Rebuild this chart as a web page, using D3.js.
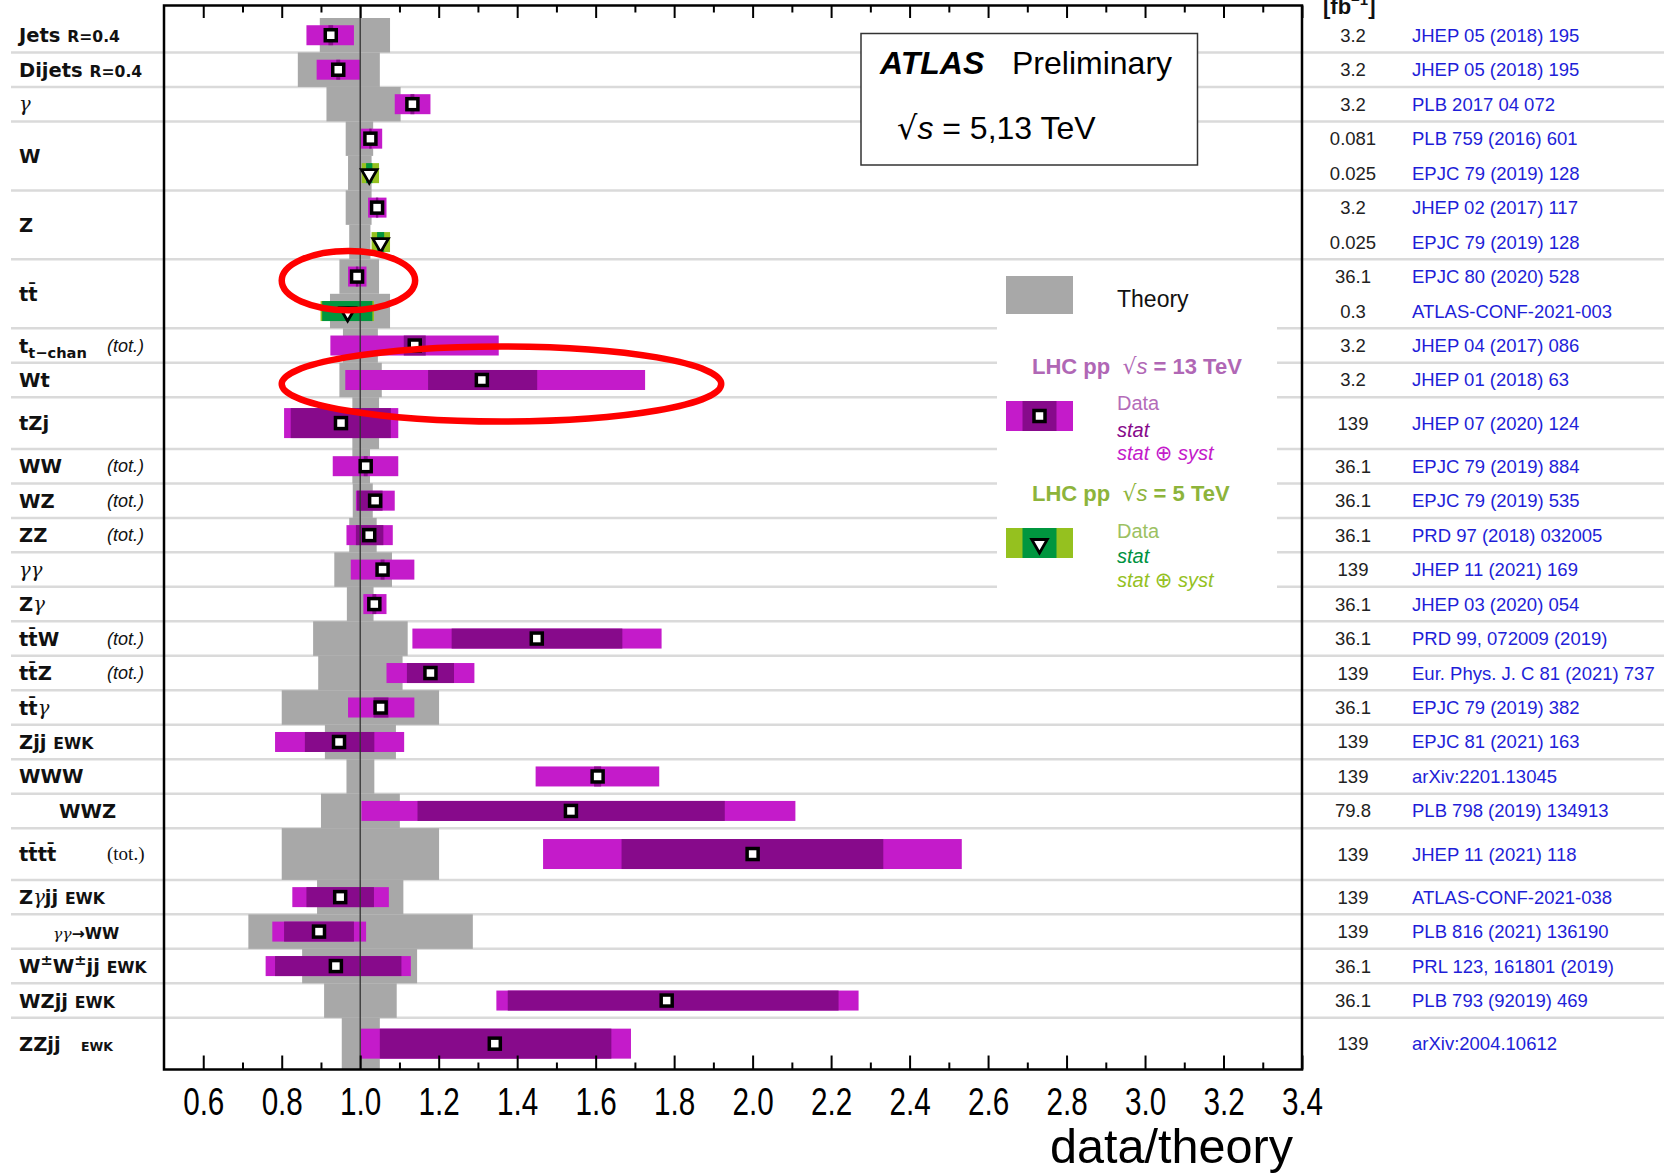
<!DOCTYPE html>
<html lang="en">
<head>
<meta charset="UTF-8">
<title>ATLAS Preliminary - data/theory summary</title>
<script src="https://d3js.org/d3.v7.min.js"></script>
<style>
  body { margin: 0; background: #fff; }
  svg text { white-space: pre; }
</style>
</head>
<body>
<script>
// row labels: {..} smaller, _{..} subscript, ^{..} superscript, $..$ italic greek
const rowLabels = [
  "Jets {R=0.4}", "Dijets {R=0.4}", "$γ$", "W", "Z", "tt\u0304",
  "t_{t−chan}", "Wt", "tZj", "WW", "WZ", "ZZ", "$γγ$", "Z$γ$",
  "tt\u0304W", "tt\u0304Z", "tt\u0304$γ$", "Zjj {EWK}", "WWW", "WWZ",
  "tt\u0304tt\u0304", "Z$γ$jj {EWK}", "{$γγ$→WW}", "W^{±}W^{±}jj {EWK}",
  "WZjj {EWK}", "ZZjj   {{EWK}}"
];
const rowUnits = [1, 1, 1, 2, 2, 2, 1, 1, 1.5, 1, 1, 1, 1, 1, 1, 1, 1, 1, 1, 1, 1.5, 1, 1, 1, 1, 1.5];
const totRows = [6, 9, 10, 11, 14, 15, 20];

// measurements (one per entry)
const entryRow  = [0, 1, 2, 3, 3, 4, 4, 5, 5, 6, 7, 8, 9, 10, 11, 12, 13, 14, 15, 16, 17, 18, 19, 20, 21, 22, 23, 24, 25];
const entrySlot = [0, 0, 0, 0, 1, 0, 1, 0, 1, 0, 0, 0, 0, 0, 0, 0, 0, 0, 0, 0, 0, 0, 0, 0, 0, 0, 0, 0, 0];
const entrySqrtS = ["13", "13", "13", "13", "5", "13", "5", "13", "5", "13", "13", "13", "13", "13", "13",
  "13", "13", "13", "13", "13", "13", "13", "13", "13", "13", "13", "13", "13", "13"];
const central = [0.925, 0.944, 1.133, 1.026, 1.023, 1.043, 1.052, 0.992, 0.968, 1.139, 1.310, 0.951, 1.014,
  1.038, 1.023, 1.057, 1.036, 1.450, 1.179, 1.052, 0.946, 1.605, 1.537, 2.000, 0.949, 0.895, 0.938, 1.781, 1.343];
const statLo = [0.919, 0.939, 1.128, 1.023, 1.015, 1.040, 1.043, 0.989, 0.903, 1.111, 1.173, 0.823, 1.009,
  0.992, 0.989, 1.052, 1.031, 1.233, 1.119, 1.034, 0.859, 1.596, 1.146, 1.666, 0.863, 0.806, 0.783, 1.376, 1.050];
const statHi = [0.931, 0.949, 1.138, 1.029, 1.031, 1.046, 1.061, 0.995, 1.031, 1.167, 1.451, 1.078, 1.019,
  1.057, 1.059, 1.062, 1.041, 1.668, 1.239, 1.072, 1.036, 1.614, 1.929, 2.333, 1.035, 0.984, 1.105, 2.219, 1.640];
const totLo = [0.863, 0.889, 1.088, 1.002, 1.004, 1.020, 1.029, 0.969, 0.899, 0.924, 0.962, 0.806, 0.930,
  0.989, 0.965, 0.976, 1.008, 1.133, 1.067, 0.969, 0.783, 1.447, 1.003, 1.466, 0.827, 0.776, 0.759, 1.347, 1.002];
const totHi = [0.984, 0.999, 1.179, 1.056, 1.048, 1.067, 1.076, 1.016, 1.035, 1.353, 1.726, 1.097, 1.097,
  1.088, 1.083, 1.138, 1.067, 1.768, 1.291, 1.138, 1.112, 1.762, 2.109, 2.533, 1.073, 1.015, 1.129, 2.270, 1.690];
const theoryLo = [0.897, 0.841, 0.914, 0.963, 0.969, 0.963, 0.972, 0.947, 0.923, 0.956, 0.947, 0.980, 0.980,
  0.981, 0.972, 0.934, 0.966, 0.880, 0.893, 0.800, 0.910, 0.965, 0.900, 0.800, 0.890, 0.715, 0.852, 0.908, 0.953];
const theoryHi = [1.076, 1.050, 1.103, 1.033, 1.029, 1.029, 1.026, 1.048, 1.076, 1.045, 1.055, 1.048, 1.025,
  1.032, 1.042, 1.081, 1.034, 1.121, 1.108, 1.201, 1.091, 1.036, 1.101, 1.201, 1.110, 1.287, 1.145, 1.093, 1.050];
const lumi = ["3.2", "3.2", "3.2", "0.081", "0.025", "3.2", "0.025", "36.1", "0.3", "3.2", "3.2", "139", "36.1",
  "36.1", "36.1", "139", "36.1", "36.1", "139", "36.1", "139", "139", "79.8", "139", "139", "139", "36.1", "36.1", "139"];
const refs = [
  "JHEP 05 (2018) 195", "JHEP 05 (2018) 195", "PLB 2017 04 072", "PLB 759 (2016) 601",
  "EPJC 79 (2019) 128", "JHEP 02 (2017) 117", "EPJC 79 (2019) 128", "EPJC 80 (2020) 528",
  "ATLAS-CONF-2021-003", "JHEP 04 (2017) 086", "JHEP 01 (2018) 63", "JHEP 07 (2020) 124",
  "EPJC 79 (2019) 884", "EPJC 79 (2019) 535", "PRD 97 (2018) 032005", "JHEP 11 (2021) 169",
  "JHEP 03 (2020) 054", "PRD 99, 072009 (2019)", "Eur. Phys. J. C 81 (2021) 737", "EPJC 79 (2019) 382",
  "EPJC 81 (2021) 163", "arXiv:2201.13045", "PLB 798 (2019) 134913", "JHEP 11 (2021) 118",
  "ATLAS-CONF-2021-038", "PLB 816 (2021) 136190", "PRL 123, 161801 (2019)", "PLB 793 (92019) 469",
  "arXiv:2004.10612"
];
const majorTicks = d3.range(3, 18).map(i => i / 5);
const minorTicks = d3.range(7, 34, 2).map(i => i / 10);

// red highlight rings drawn on top (entry index, data/theory span, half height in row units)
const highlightEntry = [7, 10];
const highlightSpan = [[0.80, 1.14], [0.80, 1.92]];
const highlightHalf = [0.86, 1.09];

const W = 1664, H = 1173;
const frame = {left: 164, right: 1302, top: 5.5, bottom: 1069.5};
const totalUnits = d3.sum(rowUnits);

const x = d3.scaleLinear().domain([0.5, 3.4]).range([frame.left, frame.right]);
const y = d3.scaleLinear().domain([0, totalUnits]).range([18, frame.bottom]);

const rowStart = [];
rowUnits.reduce((acc, u, i) => { rowStart[i] = acc; return acc + u; }, 0);
const slotsInRow = rowUnits.map((u, i) => entryRow.filter(r => r === i).length || 1);

const colors = {
  theory: "#a8a8a8",
  "13": {tot: "#c41bca", stat: "#870a8b"},
  "5": {tot: "#95c11f", stat: "#00963f"}
};

const svg = d3.select("body").append("svg").attr("width", W).attr("height", H)
  .style("font-family", "'Liberation Sans', Arial, sans-serif");
svg.append("rect").attr("width", W).attr("height", H).attr("fill", "#fff");

// entry geometry
const entries = central.map((c, i) => {
  const r = entryRow[i];
  const slotU = rowUnits[r] / slotsInRow[r];
  const u0 = rowStart[r] + entrySlot[i] * slotU;
  const top = y(u0), bot = y(u0 + slotU);
  return {i, r, c, top, bot, mid: (top + bot) / 2, h: bot - top, e: entrySqrtS[i]};
});

// row separators
const sepG = svg.append("g");
rowStart.slice(1).forEach(u => {
  sepG.append("line").attr("x1", 11).attr("x2", W).attr("y1", y(u)).attr("y2", y(u))
    .attr("stroke", "#dadada").attr("stroke-width", 2.5);
});

// white backgrounds of ATLAS box and legend
svg.append("rect").attr("x", 997).attr("y", 264).attr("width", 280).attr("height", 334).attr("fill", "#fff");
svg.append("rect").attr("x", 861).attr("y", 33.5).attr("width", 336.5).attr("height", 131.5)
  .attr("fill", "#fff").attr("stroke", "#333").attr("stroke-width", 1.5);

svg.append("clipPath").attr("id", "plotclip").append("rect")
  .attr("x", frame.left).attr("y", frame.top).attr("width", frame.right - frame.left).attr("height", frame.bottom - frame.top);
const plot = svg.append("g").attr("clip-path", "url(#plotclip)");

// theory bands
plot.selectAll(".theory").data(entries).join("rect")
  .attr("x", d => x(theoryLo[d.i])).attr("width", d => x(theoryHi[d.i]) - x(theoryLo[d.i]))
  .attr("y", d => d.top).attr("height", d => d.h).attr("fill", colors.theory);

// stat+syst and stat bars
const barH = d => d.h * 0.58;
plot.selectAll(".tot").data(entries).join("rect")
  .attr("x", d => x(totLo[d.i])).attr("width", d => x(totHi[d.i]) - x(totLo[d.i]))
  .attr("y", d => d.mid - barH(d) / 2).attr("height", barH).attr("fill", d => colors[d.e].tot);
plot.selectAll(".stat").data(entries).join("rect")
  .attr("x", d => x(statLo[d.i])).attr("width", d => x(statHi[d.i]) - x(statLo[d.i]))
  .attr("y", d => d.mid - barH(d) / 2).attr("height", barH).attr("fill", d => colors[d.e].stat);

// unity line
plot.append("line").attr("x1", x(1)).attr("x2", x(1)).attr("y1", frame.top).attr("y2", frame.bottom)
  .attr("stroke", "#333").attr("stroke-width", 1.3);

// markers
const tri = d3.symbol(d3.symbolTriangle, 105);
function drawMarker(g, cx, cy, e) {
  if (e === "13") {
    g.append("rect").attr("x", cx - 5.5).attr("y", cy - 5.5).attr("width", 11).attr("height", 11)
      .attr("fill", "#fff").attr("stroke", "#000").attr("stroke-width", 3.5);
  } else {
    g.append("path").attr("d", tri()).attr("transform", `translate(${cx},${cy + 1}) rotate(180)`)
      .attr("fill", "#fff").attr("stroke", "#000").attr("stroke-width", 2.8);
  }
}
entries.forEach(d => drawMarker(plot, x(d.c), d.mid, d.e));

// frame and axes
svg.append("rect").attr("x", frame.left).attr("y", frame.top)
  .attr("width", frame.right - frame.left).attr("height", frame.bottom - frame.top)
  .attr("fill", "none").attr("stroke", "#000").attr("stroke-width", 2.5);

const axB = svg.append("g").attr("transform", `translate(0,${frame.bottom})`)
  .call(d3.axisBottom(x).tickValues(majorTicks).tickSize(-14).tickPadding(18.5).tickFormat(d3.format(".1f")));
svg.append("g").attr("transform", `translate(0,${frame.bottom})`)
  .call(d3.axisBottom(x).tickValues(minorTicks).tickSize(-7).tickFormat(""));
svg.append("g").attr("transform", `translate(0,${frame.top})`)
  .call(d3.axisTop(x).tickValues(majorTicks).tickSize(-12.5).tickFormat(""));
svg.append("g").attr("transform", `translate(0,${frame.top})`)
  .call(d3.axisTop(x).tickValues(minorTicks).tickSize(-7).tickFormat(""));
svg.selectAll(".domain").remove();
svg.selectAll(".tick line").attr("stroke", "#000").attr("stroke-width", 2);
axB.selectAll("text").attr("font-size", 38).attr("font-family", "'Liberation Sans', Arial, sans-serif")
  .attr("fill", "#000")
  .each(function() { this.setAttribute("textLength", this.getComputedTextLength() * 0.78); this.setAttribute("lengthAdjust", "spacingAndGlyphs"); });

const xt = svg.append("text").attr("x", 1293).attr("y", 1163).attr("text-anchor", "end")
  .attr("font-size", 48).attr("fill", "#000").text("data/theory");
xt.attr("textLength", 243).attr("lengthAdjust", "spacingAndGlyphs");

// rich label writer
function rich(textSel, str, base, family) {
  const stack = [{size: 1, shift: 0}];
  let italic = false, buf = "";
  const runs = [];
  const flush = () => { if (buf) runs.push({text: buf, st: stack[stack.length - 1], it: italic}); buf = ""; };
  for (let k = 0; k < str.length; k++) {
    const ch = str[k], top = stack[stack.length - 1];
    if ((ch === "_" || ch === "^") && str[k + 1] === "{") {
      flush();
      stack.push({size: top.size * 0.75, shift: top.shift + (ch === "_" ? 0.3 : -0.42) * top.size});
      k++;
    } else if (ch === "{") { flush(); stack.push({size: top.size * 0.8, shift: top.shift}); }
    else if (ch === "}") { flush(); stack.pop(); }
    else if (ch === "$") { flush(); italic = !italic; }
    else buf += ch;
  }
  flush();
  let prev = 0;
  runs.forEach(r => {
    const t = textSel.append("tspan").text(r.text)
      .attr("font-size", base * r.st.size)
      .attr("dy", (r.st.shift - prev) * base);
    if (r.it) t.attr("font-family", "'DejaVu Serif', serif").attr("font-style", "italic").attr("font-weight", "normal");
    else t.attr("font-family", family).attr("font-weight", "bold");
    prev = r.st.shift;
  });
}

// left labels
const indented = {19: 59, 22: 53};
rowLabels.forEach((lab, r) => {
  const yc = (y(rowStart[r]) + y(rowStart[r] + rowUnits[r])) / 2;
  const t = svg.append("text").attr("x", indented[r] || 19).attr("y", yc + 7).attr("fill", "#111");
  rich(t, lab, 19.5, "'DejaVu Sans', sans-serif");
  if (totRows.includes(r)) {
    const serif = r === 20;
    svg.append("text").attr("x", 107).attr("y", yc + 6).attr("font-size", serif ? 19 : 18)
      .attr("font-family", serif ? "'Liberation Serif', serif" : "'Liberation Sans', sans-serif")
      .attr("font-style", serif ? "normal" : "italic").attr("fill", "#111").text("(tot.)");
  }
});

// right table
const hdr = svg.append("text").attr("x", 1323).attr("y", 14).attr("font-size", 22).attr("font-weight", "bold").attr("fill", "#111");
hdr.append("tspan").text("[fb");
hdr.append("tspan").attr("font-size", 15).attr("dy", -9).text("−1");
hdr.append("tspan").attr("dy", 9).text("]");
entries.forEach(d => {
  svg.append("text").attr("x", 1353).attr("y", d.mid + 6.5).attr("text-anchor", "middle")
    .attr("font-size", 18.5).attr("fill", "#222").text(lumi[d.i]);
  svg.append("text").attr("x", 1412).attr("y", d.mid + 6.5)
    .attr("font-size", 18.5).attr("fill", "#1e1ed8").text(refs[d.i]);
});

// ATLAS label
const at = svg.append("text").attr("x", 880).attr("y", 74).attr("font-size", 32).attr("fill", "#000");
at.append("tspan").attr("font-weight", "bold").attr("font-style", "italic").text("ATLAS");
at.append("tspan").attr("x", 1012).text("Preliminary");
const rs = svg.append("text").attr("x", 897).attr("y", 139).attr("font-size", 32).attr("fill", "#000");
rs.append("tspan").attr("font-family", "'DejaVu Sans', sans-serif").text("√");
rs.append("tspan").attr("font-style", "italic").text("s");
rs.append("tspan").text(" = 5,13 TeV");

// legend
svg.append("rect").attr("x", 1006).attr("y", 276).attr("width", 67).attr("height", 38).attr("fill", colors.theory);
svg.append("text").attr("x", 1117).attr("y", 307).attr("font-size", 23).attr("fill", "#111").text("Theory");

const legendBlocks = [
  {e: "13", title: "13", titleY: 374, boxY: 401, rows: [410, 437, 460],
   tc: ["#b067b5", "#b46cb9", "#870a8b", "#c41bca"]},
  {e: "5", title: "5", titleY: 501, boxY: 528, rows: [538, 563, 587],
   tc: ["#8db43b", "#9cc162", "#00923f", "#95c11f"]}
];
legendBlocks.forEach(b => {
  const tt = svg.append("text").attr("x", 1032).attr("y", b.titleY).attr("font-size", 22)
    .attr("font-weight", "bold").attr("fill", b.tc[0]);
  tt.append("tspan").text("LHC pp  ");
  tt.append("tspan").attr("font-weight", "normal").attr("font-family", "'DejaVu Sans', sans-serif").text("√");
  tt.append("tspan").attr("font-weight", "normal").attr("font-style", "italic").text("s");
  tt.append("tspan").text(` = ${b.title} TeV`);
  svg.append("rect").attr("x", 1006).attr("y", b.boxY).attr("width", 67).attr("height", 30).attr("fill", colors[b.e].tot);
  svg.append("rect").attr("x", 1022.5).attr("y", b.boxY).attr("width", 34).attr("height", 30).attr("fill", colors[b.e].stat);
  drawMarker(svg, 1039.5, b.boxY + 15, b.e);
  svg.append("text").attr("x", 1117).attr("y", b.rows[0]).attr("font-size", 20).attr("fill", b.tc[1]).text("Data");
  svg.append("text").attr("x", 1117).attr("y", b.rows[1]).attr("font-size", 20).attr("font-style", "italic").attr("fill", b.tc[2]).text("stat");
  const sy = svg.append("text").attr("x", 1117).attr("y", b.rows[2]).attr("font-size", 20).attr("font-style", "italic").attr("fill", b.tc[3]);
  sy.append("tspan").text("stat ");
  sy.append("tspan").attr("font-style", "normal").attr("font-family", "'DejaVu Sans', sans-serif").attr("font-size", 21).text("⊕");
  sy.append("tspan").text(" syst");
});

// red highlight rings
highlightEntry.forEach((ei, k) => {
  const d = entries[ei];
  const [a, b] = highlightSpan[k];
  svg.append("ellipse").attr("cx", (x(a) + x(b)) / 2).attr("cy", d.mid + 4)
    .attr("rx", (x(b) - x(a)) / 2).attr("ry", highlightHalf[k] * (y(1) - y(0)))
    .attr("fill", "none").attr("stroke", "#f00").attr("stroke-width", 6.5);
});
</script>
</body>
</html>
